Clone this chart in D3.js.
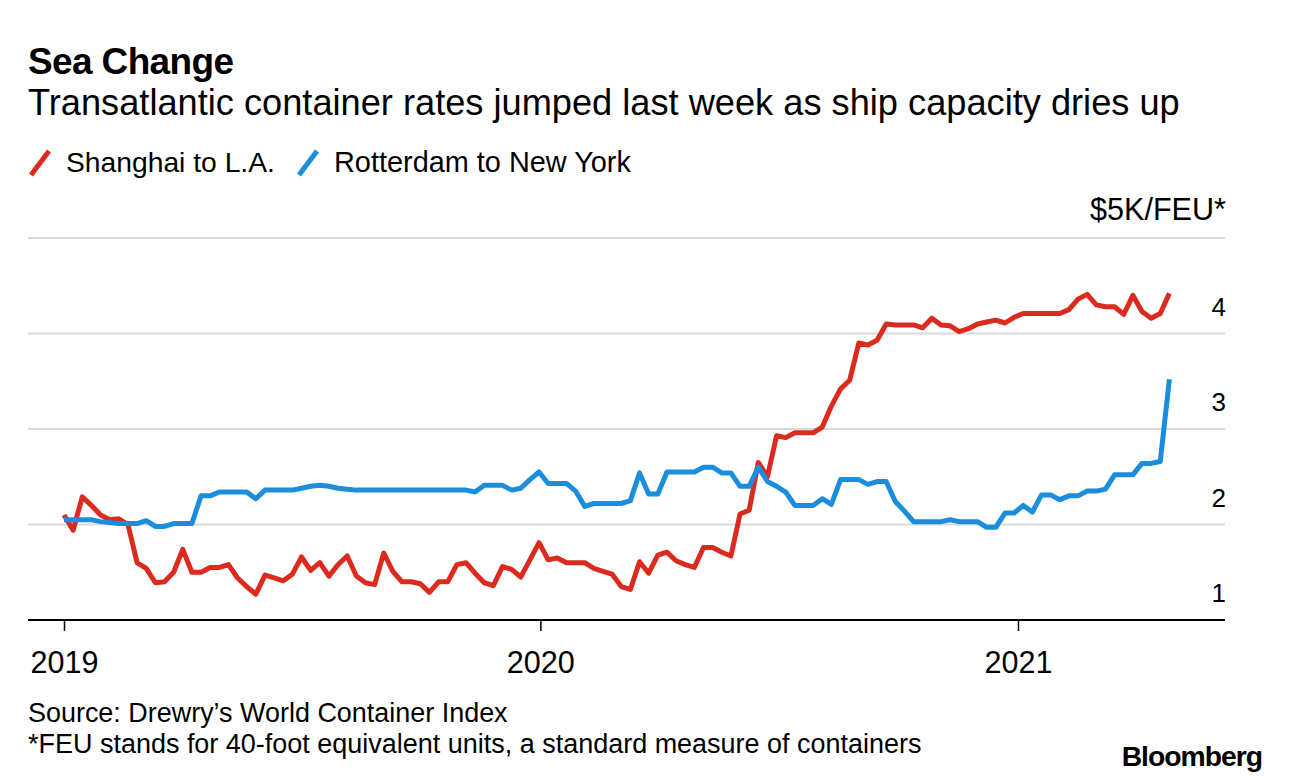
<!DOCTYPE html>
<html><head><meta charset="utf-8">
<script src="https://cdn.jsdelivr.net/npm/d3@7"></script>
<style>body{margin:0;background:#fff}svg text{font-family:"Liberation Sans",Arial,sans-serif;fill:#000}</style>
</head><body><svg id="c" width="1289" height="782"></svg>
<script>
// ---- data (weekly, starting first week of 2019) ----
const startDate = "2019-01-01";
const shanghaiLA = [
 2.10,1.94,2.29,2.20,2.10,2.05,2.06,2.00,1.60,1.54,
 1.39,1.40,1.50,1.74,1.50,1.50,1.55,1.55,1.58,1.44,
 1.35,1.27,1.47,1.44,1.41,1.48,1.66,1.52,1.60,1.46,
 1.58,1.67,1.46,1.39,1.37,1.70,1.51,1.40,1.40,1.38,
 1.29,1.40,1.40,1.58,1.60,1.49,1.39,1.36,1.56,1.53,
 1.45,1.63,1.81,1.63,1.65,1.60,1.60,1.60,1.54,1.51,
 1.48,1.35,1.32,1.61,1.49,1.68,1.71,1.62,1.58,1.55,
 1.76,1.76,1.71,1.67,2.11,2.15,2.65,2.50,2.93,2.91,
 2.96,2.96,2.96,3.02,3.24,3.42,3.51,3.90,3.88,3.93,
 4.10,4.09,4.09,4.09,4.06,4.16,4.09,4.08,4.02,4.05,
 4.10,4.12,4.14,4.11,4.17,4.21,4.21,4.21,4.21,4.21,
 4.25,4.36,4.41,4.30,4.28,4.28,4.20,4.40,4.23,4.16,
 4.21,4.42
];
const rotterdamNY = [
 2.05,2.05,2.05,2.05,2.03,2.02,2.01,2.01,2.01,2.04,
 1.98,1.98,2.01,2.01,2.01,2.30,2.30,2.34,2.34,2.34,
 2.34,2.27,2.36,2.36,2.36,2.36,2.38,2.40,2.41,2.40,
 2.38,2.37,2.36,2.36,2.36,2.36,2.36,2.36,2.36,2.36,
 2.36,2.36,2.36,2.36,2.36,2.34,2.41,2.41,2.41,2.36,
 2.38,2.47,2.55,2.43,2.43,2.43,2.35,2.19,2.22,2.22,
 2.22,2.22,2.25,2.54,2.32,2.32,2.55,2.55,2.55,2.55,
 2.60,2.60,2.54,2.54,2.40,2.40,2.60,2.45,2.40,2.34,
 2.20,2.20,2.20,2.27,2.21,2.47,2.47,2.47,2.42,2.45,
 2.45,2.24,2.14,2.03,2.03,2.03,2.03,2.05,2.03,2.03,
 2.03,1.97,1.97,2.12,2.12,2.20,2.13,2.31,2.31,2.26,
 2.30,2.30,2.35,2.35,2.37,2.52,2.52,2.52,2.64,2.64,
 2.66,3.52
];
const seriesNames = ["Shanghai to L.A.", "Rotterdam to New York"];
const seriesColors = ["#dd2a1f", "#1a8ddc"];
const yTicks = [1, 2, 3, 4, 5];
const yTickLabels = ["1", "2", "3", "4", "$5K/FEU*"];
const xTicks = ["2019-01-01", "2020-01-01", "2021-01-01"];
const xTickLabels = ["2019", "2020", "2021"];
const title = "Sea Change";
const subtitle = "Transatlantic container rates jumped last week as ship capacity dries up";
const source = "Source: Drewry\u2019s World Container Index";
const footnote = "*FEU stands for 40-foot equivalent units, a standard measure of containers";

// ---- layout ----
const svg = d3.select("#c");
const parse = d3.utcParse("%Y-%m-%d");
const left = 28, right = 1225;
const x = d3.scaleUtc()
  .domain([parse("2019-01-01"), parse("2021-01-01")])
  .range([64, 1018]);
const y = d3.scaleLinear().domain([1, 5]).range([620, 238]);

const t0 = parse(startDate);
const mk = arr => arr.map((v, i) => ({date: d3.utcDay.offset(t0, i * 7), v}));
const data = [mk(shanghaiLA), mk(rotterdamNY)];

function fit(sel, w) {
  const cur = sel.node().getComputedTextLength();
  sel.attr("font-size", parseFloat(sel.attr("font-size")) * w / cur);
  return sel;
}

// titles
fit(svg.append("text").attr("x", 28).attr("y", 74).attr("font-size", 34)
  .attr("font-weight", "bold").attr("letter-spacing", -0.6).text(title), 205);
fit(svg.append("text").attr("x", 28).attr("y", 115).attr("font-size", 28).text(subtitle), 1152);

// legend
const legendX = [30, 298], legendTextX = [66, 334], legendW = [209, 297];
seriesNames.forEach((n, i) => {
  svg.append("line").attr("x1", legendX[i] + 1).attr("y1", 175).attr("x2", legendX[i] + 19).attr("y2", 151)
    .attr("stroke", seriesColors[i]).attr("stroke-width", 5);
  fit(svg.append("text").attr("x", legendTextX[i]).attr("y", 172).attr("font-size", 25).text(n), legendW[i]);
});

// gridlines + y labels
yTicks.forEach((t, i) => {
  if (t !== 1) {
    svg.append("line").attr("x1", left).attr("x2", right).attr("y1", y(t)).attr("y2", y(t))
      .attr("stroke", "#d9d9d9").attr("stroke-width", 2);
  }
  const lbl = svg.append("text").attr("x", right + 1).attr("y", y(t) - 18).attr("text-anchor", "end")
    .attr("font-size", 26).text(yTickLabels[i]);
  if (t === 5) fit(lbl, 136);
});

// lines
const line = d3.line().x(d => x(d.date)).y(d => y(d.v));
data.forEach((d, i) => {
  svg.append("path").datum(d).attr("d", line).attr("fill", "none")
    .attr("stroke", seriesColors[i]).attr("stroke-width", 5)
    .attr("stroke-linejoin", "round").attr("stroke-linecap", "butt");
});

// x axis
svg.append("line").attr("x1", left).attr("x2", right).attr("y1", y(1)).attr("y2", y(1))
  .attr("stroke", "#000").attr("stroke-width", 2);
const xAxis = d3.axisBottom(x).tickValues(xTicks.map(parse))
  .tickFormat((d, i) => xTickLabels[i]).tickSize(11).tickPadding(20);
const gx = svg.append("g").attr("transform", `translate(0,${y(1)})`).call(xAxis);
gx.select(".domain").remove();
gx.selectAll(".tick line").attr("stroke", "#000").attr("stroke-width", 1.5);
gx.selectAll(".tick text").attr("font-size", 25).attr("font-family", "Liberation Sans, Arial, sans-serif").attr("fill", "#000")
  .each(function() { fit(d3.select(this), 68); });

// footer
fit(svg.append("text").attr("x", 28).attr("y", 722).attr("font-size", 23).text(source), 480);
fit(svg.append("text").attr("x", 28).attr("y", 753).attr("font-size", 23).text(footnote), 894);
fit(svg.append("text").attr("x", 1262).attr("y", 766).attr("text-anchor", "end")
  .attr("font-size", 27).attr("font-weight", "bold").attr("letter-spacing", -1).text("Bloomberg"), 140);
</script>
</body></html>
